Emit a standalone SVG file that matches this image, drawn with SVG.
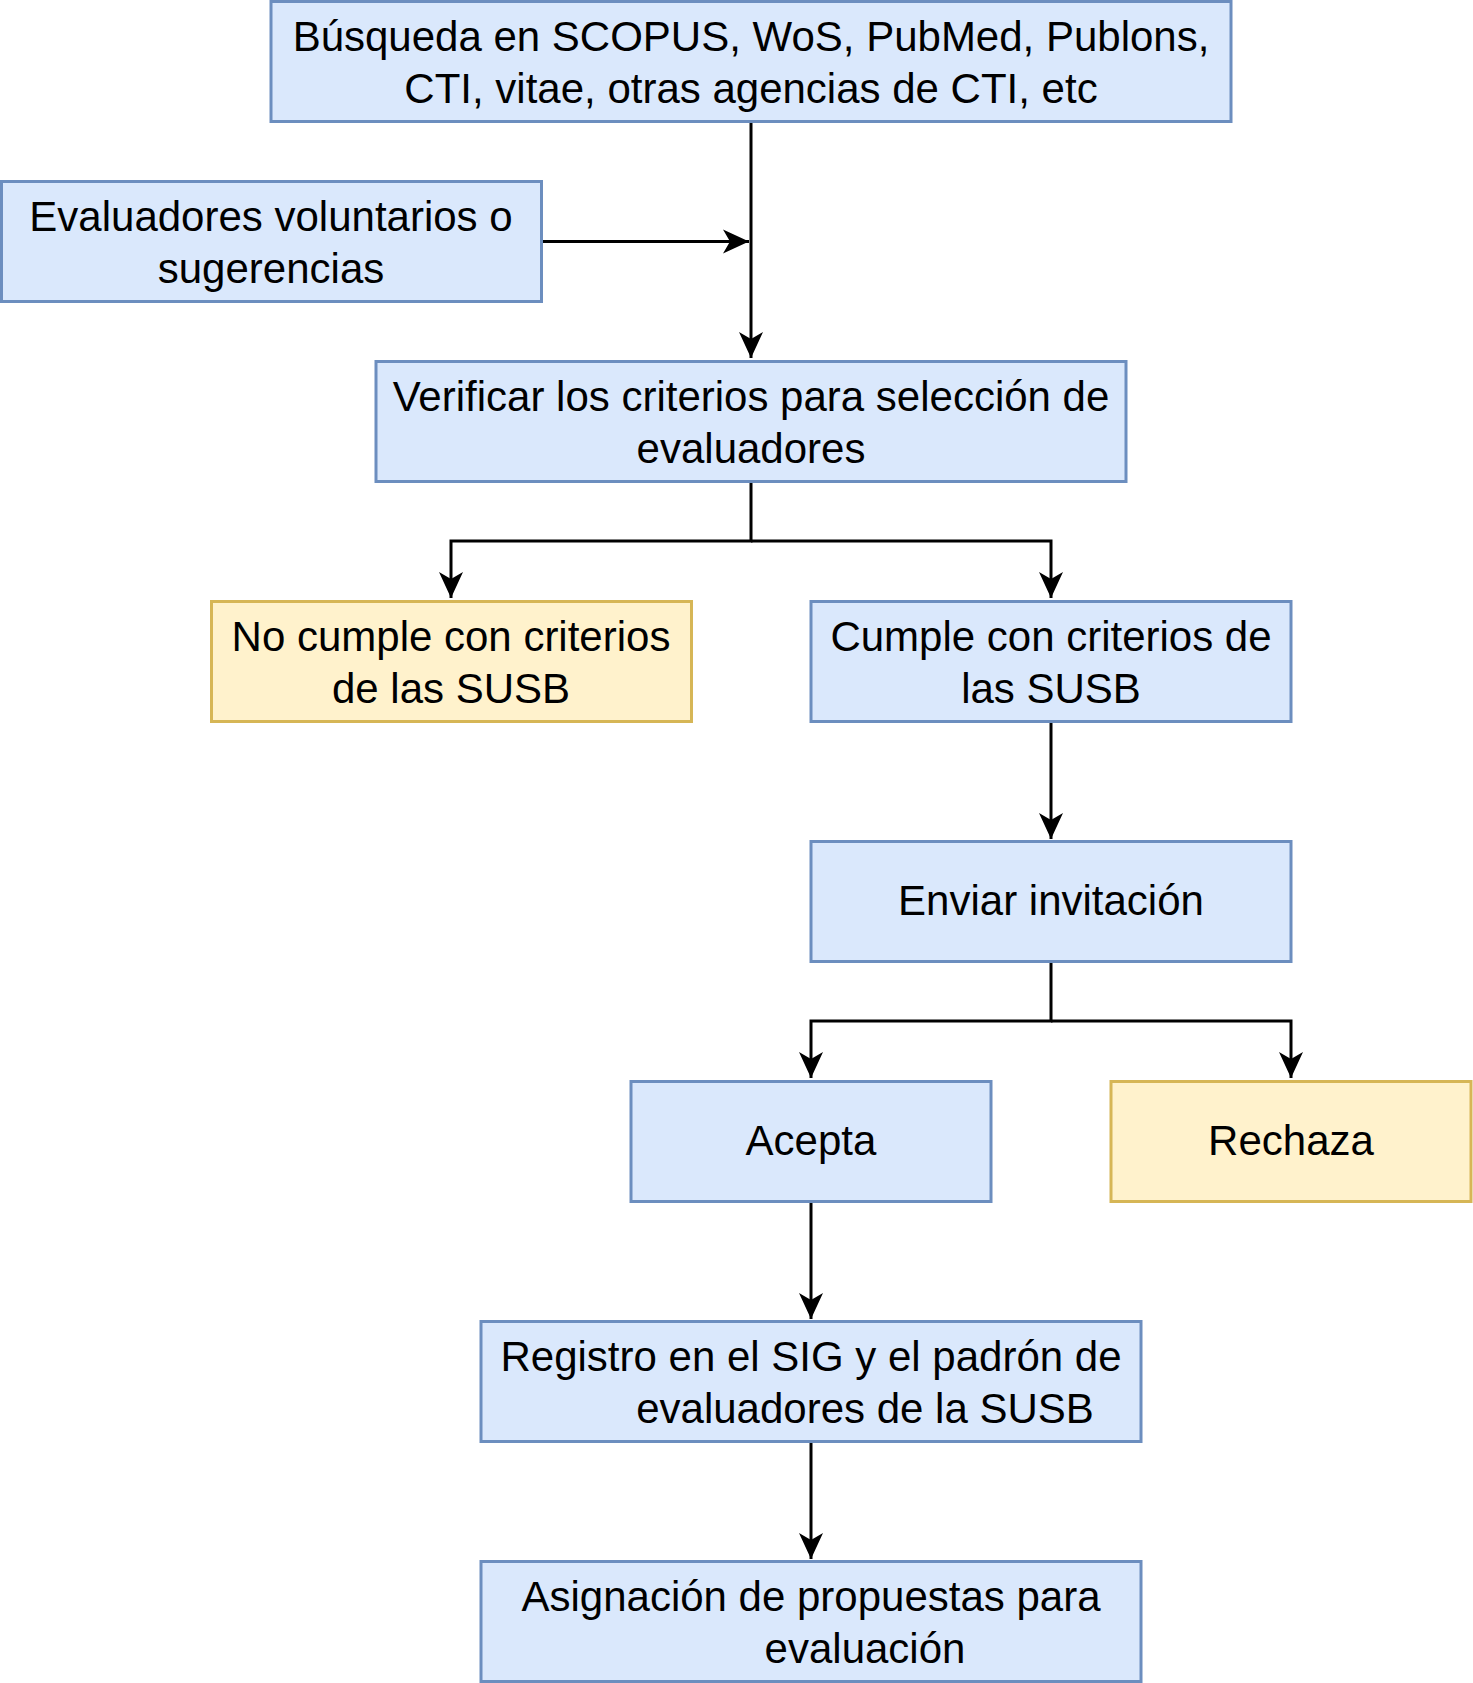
<svg xmlns="http://www.w3.org/2000/svg" width="1473" height="1683" viewBox="0 0 1473 1683">
<defs>
<marker id="arr" viewBox="0 0 28 28" refX="26" refY="14" markerWidth="28" markerHeight="28" markerUnits="userSpaceOnUse" orient="auto">
<path d="M0,2 L26,14 L0,26 L7,14 Z" fill="#000"/>
</marker>
</defs>
<style>
.b{fill:#dae8fc;stroke:#6c8ebf;stroke-width:3}
.y{fill:#fff2cc;stroke:#d6b656;stroke-width:3}
text{font-family:"Liberation Sans",Arial,sans-serif;font-size:42px;fill:#000;text-anchor:middle}
.c{fill:none;stroke:#000;stroke-width:3}
</style>
<rect width="1473" height="1683" fill="#fff"/>
<g id="connectors">
<path class="c" d="M751,122 V358" marker-end="url(#arr)"/>
<path class="c" d="M541,241.5 H749" marker-end="url(#arr)"/>
<path class="c" d="M751,482 V541 H451 V598" marker-end="url(#arr)"/>
<path class="c" d="M751,541 H1051 V598" marker-end="url(#arr)"/>
<path class="c" d="M1051,722 V839" marker-end="url(#arr)"/>
<path class="c" d="M1051,962 V1021 H811 V1078" marker-end="url(#arr)"/>
<path class="c" d="M1051,1021 H1291 V1078" marker-end="url(#arr)"/>
<path class="c" d="M811,1202 V1319" marker-end="url(#arr)"/>
<path class="c" d="M811,1442 V1559" marker-end="url(#arr)"/>
</g>
<g id="n1"><rect class="b" x="271" y="1.5" width="960" height="120"/>
<text x="751" y="51">Búsqueda en SCOPUS, WoS, PubMed, Publons,</text>
<text x="751" y="102.5">CTI, vitae, otras agencias de CTI, etc</text></g>
<g id="n2"><rect class="b" x="1.5" y="181.5" width="540" height="120"/>
<text x="271" y="231">Evaluadores voluntarios o</text>
<text x="271" y="282.5">sugerencias</text></g>
<g id="n3"><rect class="b" x="376" y="361.5" width="750" height="120"/>
<text x="751" y="411">Verificar los criterios para selección de</text>
<text x="751" y="462.5">evaluadores</text></g>
<g id="n4"><rect class="y" x="211.5" y="601.5" width="480" height="120"/>
<text x="451" y="651">No cumple con criterios</text>
<text x="451" y="702.5">de las SUSB</text></g>
<g id="n5"><rect class="b" x="811" y="601.5" width="480" height="120"/>
<text x="1051" y="651">Cumple con criterios de</text>
<text x="1051" y="702.5">las SUSB</text></g>
<g id="n6"><rect class="b" x="811" y="841.5" width="480" height="120"/>
<text x="1051" y="915">Enviar invitación</text></g>
<g id="n7"><rect class="b" x="631" y="1081.5" width="360" height="120"/>
<text x="811" y="1155">Acepta</text></g>
<g id="n8"><rect class="y" x="1111" y="1081.5" width="360" height="120"/>
<text x="1291" y="1155">Rechaza</text></g>
<g id="n9"><rect class="b" x="481" y="1321.5" width="660" height="120"/>
<text x="811" y="1371">Registro en el SIG y el padrón de</text>
<text x="865" y="1422.5">evaluadores de la SUSB</text></g>
<g id="n10"><rect class="b" x="481" y="1561.5" width="660" height="120"/>
<text x="811" y="1611">Asignación de propuestas para</text>
<text x="865" y="1662.5">evaluación</text></g>
</svg>
